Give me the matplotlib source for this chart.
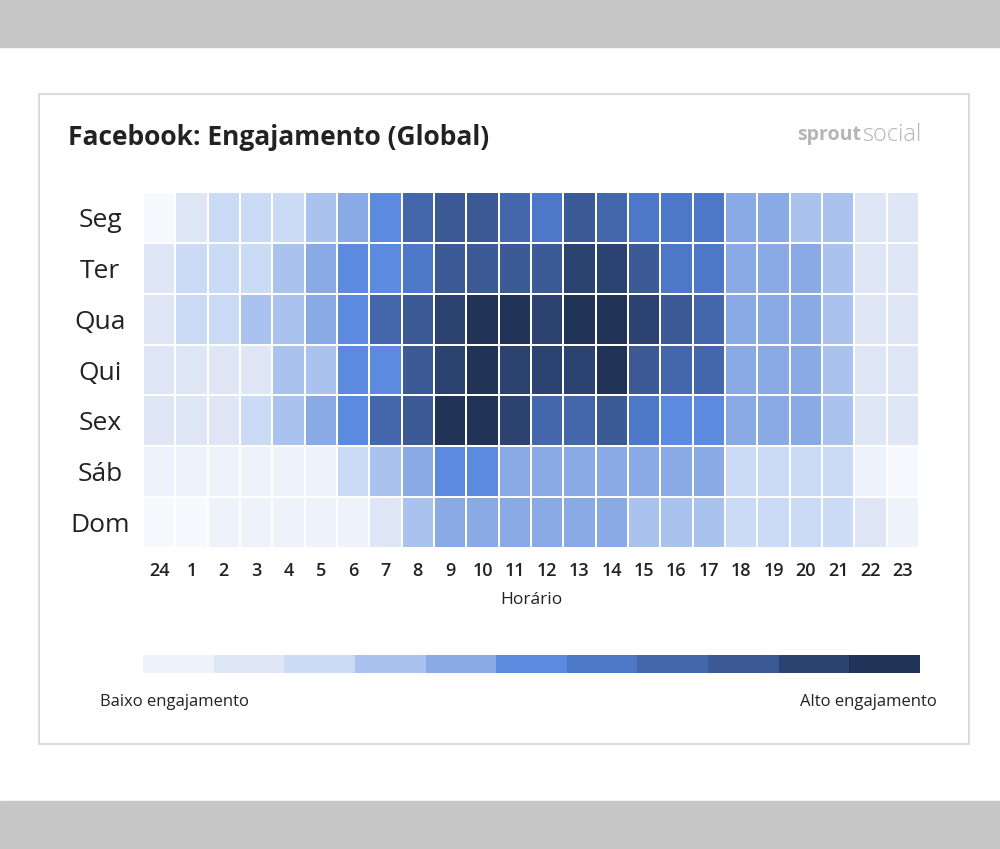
import numpy as np
import matplotlib
matplotlib.use("Agg")
import matplotlib.pyplot as plt
from matplotlib.colors import ListedColormap, BoundaryNorm
from matplotlib.patches import Rectangle

# engagement levels, 0 = almost none, 11 = highest
days = ["Seg", "Ter", "Qua", "Qui", "Sex", "Sáb", "Dom"]
hours = ["24"] + [str(h) for h in range(1, 24)]
seg = [0, 2, 3, 3, 3, 4, 5, 6, 8, 9, 9, 8, 7, 9, 8, 7, 7, 7, 5, 5, 4, 4, 2, 2]
ter = [2, 3, 3, 3, 4, 5, 6, 6, 7, 9, 9, 9, 9, 10, 10, 9, 7, 7, 5, 5, 5, 4, 2, 2]
qua = [2, 3, 3, 4, 4, 5, 6, 8, 9, 10, 11, 11, 10, 11, 11, 10, 9, 8, 5, 5, 5, 4, 2, 2]
qui = [2, 2, 2, 2, 4, 4, 6, 6, 9, 10, 11, 10, 10, 10, 11, 9, 8, 8, 5, 5, 5, 4, 2, 2]
sex = [2, 2, 2, 3, 4, 5, 6, 8, 9, 11, 11, 10, 8, 8, 9, 7, 6, 6, 5, 5, 5, 4, 2, 2]
sab = [1, 1, 1, 1, 1, 1, 3, 4, 5, 6, 6, 5, 5, 5, 5, 5, 5, 5, 3, 3, 3, 3, 1, 0]
dom = [0, 0, 1, 1, 1, 1, 1, 2, 4, 5, 5, 5, 5, 5, 5, 4, 4, 4, 3, 3, 3, 3, 2, 1]
legend_levels = list(range(1, 12))

colors = ['#f7f9fe', '#eef2fb', '#dfe7f7', '#cbdaf5', '#aac3ee', '#8aaae6',
          '#5b8ade', '#4d78c8', '#4467ab', '#3b5a96', '#2c4270', '#223358']
cmap = ListedColormap(colors)
norm = BoundaryNorm(np.arange(-0.5, 12.5, 1), cmap.N)

W, H = 1000, 849
fig = plt.figure(figsize=(W / 100, H / 100), dpi=100)
fig.patch.set_facecolor('white')

def px_axes(x0, y0, x1, y1):
    return fig.add_axes([x0 / W, 1 - y1 / H, (x1 - x0) / W, (y1 - y0) / H])

# background: grey bands + card
bg = px_axes(0, 0, W, H)
bg.set_xlim(0, W)
bg.set_ylim(H, 0)
bg.axis('off')
bg.add_patch(Rectangle((0, 0), W, 47, color='#c6c6c6'))
bg.add_patch(Rectangle((0, 801), W, 48, color='#c6c6c6'))
bg.add_patch(Rectangle((39, 94), 930, 650, facecolor='white', edgecolor='#dcdcdc', lw=1.5))

font = "Open Sans"
bg.text(68, 137, "Facebook: Engajamento (Global)", fontsize=19, fontweight='bold',
        color='#222222', va='center', ha='left', family=font)
bg.text(861, 135, "sprout", fontsize=14, color='#b5b5b5', va='center', ha='right',
        family=font, fontweight='bold')
bg.text(862, 135, "social", fontsize=17, color='#b5b5b5', va='center', ha='left',
        family=font, fontweight='light')

# heatmap
ax = px_axes(143, 192, 919, 548)
data = np.array([seg, ter, qua, qui, sex, sab, dom])
ax.pcolormesh(np.arange(len(hours) + 1), np.arange(len(days) + 1), data,
              cmap=cmap, norm=norm, edgecolors='white', linewidth=1.1)
ax.set_xlim(0, len(hours))
ax.set_ylim(len(days), 0)
ax.set_xticks(np.arange(len(hours)) + 0.5)
ax.set_xticklabels(hours, fontsize=13, fontweight='semibold', color='#222222', family=font)
ax.set_yticks(np.arange(len(days)) + 0.5)
ax.set_yticklabels(days, fontsize=19, color='#222222', family=font, ha='center')
ax.tick_params(axis='x', length=0, pad=10)
ax.tick_params(axis='y', length=0, pad=31)
for s in ax.spines.values():
    s.set_visible(False)
ax.set_xlabel("Horário", fontsize=12.5, color='#222222', family=font, labelpad=9)

# legend bar
lx = px_axes(143, 655, 920, 673)
lx.pcolormesh(np.arange(len(legend_levels) + 1), [0, 1], np.array([legend_levels]),
              cmap=cmap, norm=norm)
lx.set_xlim(0, len(legend_levels))
lx.axis('off')

bg.text(100, 702, "Baixo engajamento", fontsize=12, color='#222222', va='center',
        ha='left', family=font)
bg.text(937, 702, "Alto engajamento", fontsize=12, color='#222222', va='center',
        ha='right', family=font)

fig.savefig("out.png", dpi=100, facecolor='white')
